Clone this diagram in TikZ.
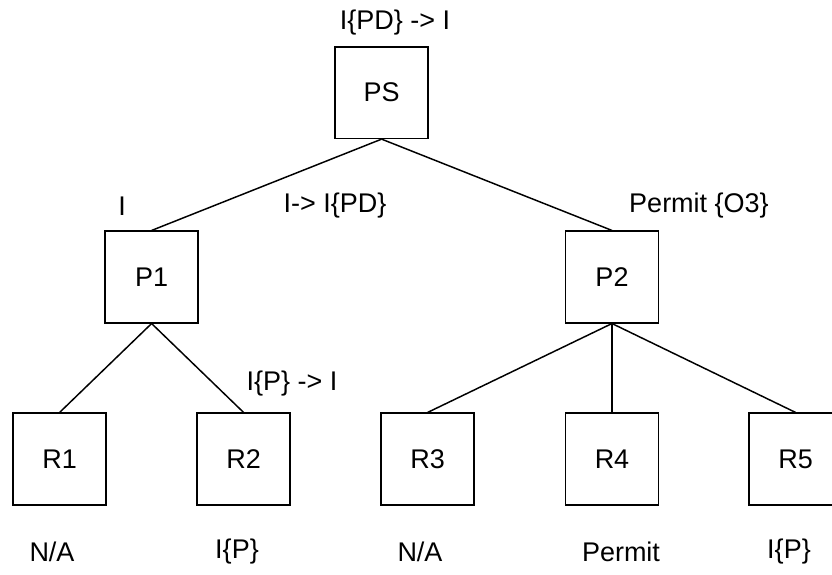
\documentclass[tikz,border=0pt]{standalone}
\usepackage{fontspec}
\setmainfont{Liberation Sans}
\usetikzlibrary{positioning}

\begin{document}
\begin{tikzpicture}[
  every node/.style={font=\fontsize{19.2}{23}\selectfont},
  box/.style={draw, line width=1.05pt, minimum width=2.32cm, minimum height=2.29cm, inner sep=0pt},
  edge/.style={line width=1.05pt},
]

% Canvas
\useasboundingbox (0,0) rectangle (20.8,14.375);

% Policy set
\node[box] (ps) at (9.54,12.06) {PS};

% Policies
\node[box] (p1) at (3.79,7.45) {P1};
\node[box] (p2) at (15.3,7.45) {P2};

% Rules
\node[box] (r1) at (1.49,2.9)  {R1};
\node[box] (r2) at (6.09,2.9)  {R2};
\node[box] (r3) at (10.69,2.9) {R3};
\node[box] (r4) at (15.3,2.9)  {R4};
\node[box] (r5) at (19.89,2.9) {R5};

% Tree edges
\draw[edge] (ps.south) -- (p1.north);
\draw[edge] (ps.south) -- (p2.north);
\draw[edge] (p1.south) -- (r1.north);
\draw[edge] (p1.south) -- (r2.north);
\draw[edge] (p2.south) -- (r3.north);
\draw[edge] (p2.south) -- (r4.north);
\draw[edge] (p2.south) -- (r5.north);

% Annotations
\node (ps lab)  at (9.875,13.8)  {I\{PD\} -> I};
\node (p1 lab)  at (3.05,9.23)   {I};
\node (ps p1)   at (8.375,9.225) {I-> I\{PD\}};
\node (p2 lab)  at (17.475,9.225) {Permit \{O3\}};
\node (r2 lab)  at (7.3,4.775)   {I\{P\} -> I};

% Rule results
\node (r1 res) at (1.3,0.575)    {N/A};
\node (r2 res) at (5.925,0.575)  {I\{P\}};
\node (r3 res) at (10.5,0.575)   {N/A};
\node (r4 res) at (15.525,0.575) {Permit};
\node (r5 res) at (19.725,0.575) {I\{P\}};

\end{tikzpicture}
\end{document}
